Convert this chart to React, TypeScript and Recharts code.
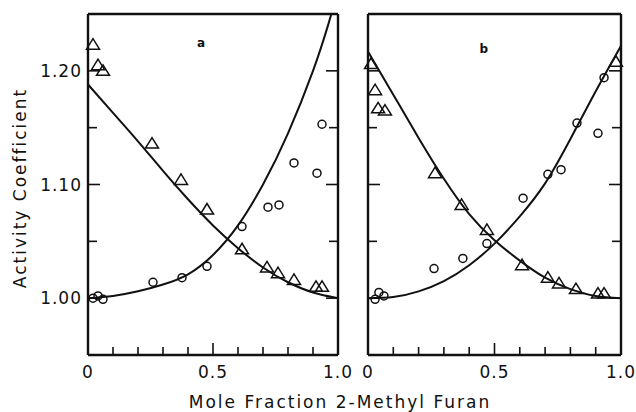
import React from "react";
import {
  ComposedChart,
  Line,
  Scatter,
  XAxis,
  YAxis,
  ReferenceDot,
} from "recharts";

// fitted curves at these mole fractions
const curveX = [0, 0.1, 0.2, 0.3, 0.4, 0.5, 0.6, 0.7, 0.8, 0.9, 1.0];
const aFallCurve = [1.188, 1.163, 1.138, 1.112, 1.087, 1.064, 1.044, 1.027, 1.014, 1.005, 1.0];
const aRiseX = [0, 0.1, 0.2, 0.3, 0.4, 0.5, 0.6, 0.7, 0.8, 0.9, 0.96, 1.0];
const aRiseCurve = [1.0, 1.002, 1.006, 1.012, 1.021, 1.038, 1.064, 1.1, 1.145, 1.2, 1.24, 1.27];
const bFallCurve = [1.217, 1.179, 1.141, 1.105, 1.074, 1.051, 1.033, 1.018, 1.008, 1.002, 1.0];
const bRiseCurve = [1.0, 1.001, 1.006, 1.015, 1.029, 1.048, 1.072, 1.101, 1.14, 1.182, 1.222];

// measured points, panel a
const aTriX = [0.02, 0.04, 0.06, 0.256, 0.372, 0.476, 0.616, 0.716, 0.76, 0.824, 0.912, 0.936];
const aTriY = [1.223, 1.205, 1.2, 1.136, 1.104, 1.078, 1.043, 1.027, 1.022, 1.016, 1.01, 1.01];
const aCircX = [0.02, 0.04, 0.06, 0.26, 0.376, 0.476, 0.616, 0.72, 0.764, 0.824, 0.916, 0.936];
const aCircY = [1.0, 1.002, 0.999, 1.014, 1.018, 1.028, 1.063, 1.08, 1.082, 1.119, 1.11, 1.153];

// measured points, panel b
const bTriX = [0.012, 0.028, 0.04, 0.067, 0.265, 0.37, 0.47, 0.609, 0.711, 0.755, 0.822, 0.909, 0.933, 0.98];
const bTriY = [1.206, 1.183, 1.167, 1.165, 1.11, 1.082, 1.06, 1.029, 1.018, 1.013, 1.008, 1.004, 1.004, 1.208];
const bCircX = [0.028, 0.043, 0.063, 0.261, 0.375, 0.47, 0.613, 0.711, 0.763, 0.826, 0.909, 0.933];
const bCircY = [0.999, 1.005, 1.002, 1.026, 1.035, 1.048, 1.088, 1.109, 1.113, 1.154, 1.145, 1.194];

const xTicks = [0, 0.1, 0.2, 0.3, 0.4, 0.5, 0.6, 0.7, 0.8, 0.9, 1];
const xLabelAt = [0, 0.5, 1];
const xLabelText = ["0", "0.5", "1.0"];
const yTicks = [1.0, 1.05, 1.1, 1.15, 1.2];
const yLabelAt = [1.0, 1.1, 1.2];
const yLabelText = ["1.00", "1.10", "1.20"];

const panelNames = ["a", "b"];
const panelNameX = [0.452, 0.458];
const panelNameY = [1.225, 1.219];

const zip = (xs: number[], ys: number[]) => xs.map((x, i) => ({ x, y: ys[i] }));

const FONT = "'DejaVu Sans', sans-serif";
const INK = "#111";

type Side = "bottom" | "top" | "left" | "right";

function makeTick(side: Side, labels: boolean) {
  return (props: any) => {
    const { x, y, payload } = props;
    const v = payload.value as number;
    if (side === "bottom" || side === "top") {
      const len = v === 0.5 ? 12 : 8;
      const d = side === "bottom" ? -len : len;
      const i = xLabelAt.indexOf(v);
      return (
        <g>
          {v > 0 && v < 1 && (
            <line x1={x} y1={y} x2={x} y2={y + d} stroke={INK} strokeWidth={1.6} />
          )}
          {labels && i >= 0 && (
            <text x={x} y={y + 23} textAnchor="middle" fontFamily={FONT} fontSize={17} letterSpacing={1} fill={INK}>
              {xLabelText[i]}
            </text>
          )}
        </g>
      );
    }
    const i = yLabelAt.indexOf(v);
    const len = i >= 0 ? 12 : 9;
    const d = side === "left" ? len : -len;
    return (
      <g>
        <line x1={x} y1={y} x2={x + d} y2={y} stroke={INK} strokeWidth={1.6} />
        {labels && i >= 0 && (
          <text x={x - 6} y={y + 6} textAnchor="end" fontFamily={FONT} fontSize={17} letterSpacing={1} fill={INK}>
            {yLabelText[i]}
          </text>
        )}
      </g>
    );
  };
}

const Triangle = (p: any) => (
  <polygon
    points={`${p.cx},${p.cy - 6} ${p.cx - 6.5},${p.cy + 4.5} ${p.cx + 6.5},${p.cy + 4.5}`}
    fill="none"
    stroke={INK}
    strokeWidth={1.5}
  />
);
const Ring = (p: any) => <circle cx={p.cx} cy={p.cy} r={4} fill="none" stroke={INK} strokeWidth={1.5} />;

interface PanelProps {
  idx: number;
  width: number;
  margin: { top: number; right: number; bottom: number; left: number };
  fall: number[];
  riseX: number[];
  rise: number[];
  tri: { x: number; y: number }[];
  circ: { x: number; y: number }[];
  yLabels: boolean;
}

function Panel({ idx, width, margin, fall, riseX, rise, tri, circ, yLabels }: PanelProps) {
  const axisLine = { stroke: INK, strokeWidth: 2.4 };
  return (
    <ComposedChart width={width} height={412} margin={margin}>
      <XAxis
        dataKey="x"
        type="number"
        domain={[0, 1]}
        ticks={xTicks}
        interval={0}
        height={1}
        tickSize={0}
        tickMargin={0}
        tickLine={false}
        axisLine={axisLine}
        tick={makeTick("bottom", true)}
      />
      <XAxis
        xAxisId="t"
        orientation="top"
        dataKey="x"
        type="number"
        domain={[0, 1]}
        ticks={xTicks}
        interval={0}
        height={1}
        tickSize={0}
        tickMargin={0}
        tickLine={false}
        axisLine={axisLine}
        tick={makeTick("top", false)}
      />
      <YAxis
        type="number"
        domain={[0.95, 1.25]}
        allowDataOverflow
        ticks={yTicks}
        interval={0}
        width={1}
        tickSize={0}
        tickMargin={0}
        tickLine={false}
        axisLine={axisLine}
        tick={makeTick("left", yLabels)}
      />
      <YAxis
        yAxisId="r"
        orientation="right"
        type="number"
        domain={[0.95, 1.25]}
        allowDataOverflow
        ticks={yTicks}
        interval={0}
        width={1}
        tickSize={0}
        tickMargin={0}
        tickLine={false}
        axisLine={axisLine}
        tick={makeTick("right", false)}
      />
      <Line
        data={zip(curveX, fall)}
        dataKey="y"
        type="natural"
        stroke={INK}
        strokeWidth={2}
        dot={false}
        isAnimationActive={false}
      />
      <Line
        data={zip(riseX, rise)}
        dataKey="y"
        type="natural"
        stroke={INK}
        strokeWidth={2}
        dot={false}
        isAnimationActive={false}
      />
      <Scatter data={tri} dataKey="y" shape={Triangle} isAnimationActive={false} />
      <Scatter data={circ} dataKey="y" shape={Ring} isAnimationActive={false} />
      <ReferenceDot
        x={panelNameX[idx]}
        y={panelNameY[idx]}
        r={0}
        fill="none"
        stroke="none"
        label={{ value: panelNames[idx], position: "center", fontWeight: "bold", fontSize: 12, fill: INK, fontFamily: FONT }}
      />
    </ComposedChart>
  );
}

const titleStyle: React.CSSProperties = {
  position: "absolute",
  textAlign: "center",
  fontFamily: FONT,
  fontSize: 17,
  lineHeight: "20px",
  letterSpacing: 2,
  color: INK,
  whiteSpace: "nowrap",
};

export default function App() {
  return (
    <div style={{ position: "absolute", left: 0, top: 0, width: 636, height: 412, background: "#fff", overflow: "hidden" }}>
      <div style={{ position: "absolute", left: 0, top: 0 }}>
        <Panel
          idx={0}
          width={362}
          margin={{ top: 13, right: 23, bottom: 56, left: 87 }}
          fall={aFallCurve}
          riseX={aRiseX}
          rise={aRiseCurve}
          tri={zip(aTriX, aTriY)}
          circ={zip(aCircX, aCircY)}
          yLabels
        />
      </div>
      <div style={{ position: "absolute", left: 345, top: 0 }}>
        <Panel
          idx={1}
          width={291}
          margin={{ top: 13, right: 14, bottom: 56, left: 22 }}
          fall={bFallCurve}
          riseX={curveX}
          rise={bRiseCurve}
          tri={zip(bTriX, bTriY)}
          circ={zip(bCircX, bCircY)}
          yLabels={false}
        />
      </div>
      <div style={{ ...titleStyle, left: 140, top: 392, width: 400 }}>Mole Fraction 2-Methyl Furan</div>
      <div
        style={{
          ...titleStyle,
          left: -100,
          top: 178,
          width: 240,
          transform: "rotate(-90deg)",
          transformOrigin: "center",
        }}
      >
        Activity Coefficient
      </div>
    </div>
  );
}
